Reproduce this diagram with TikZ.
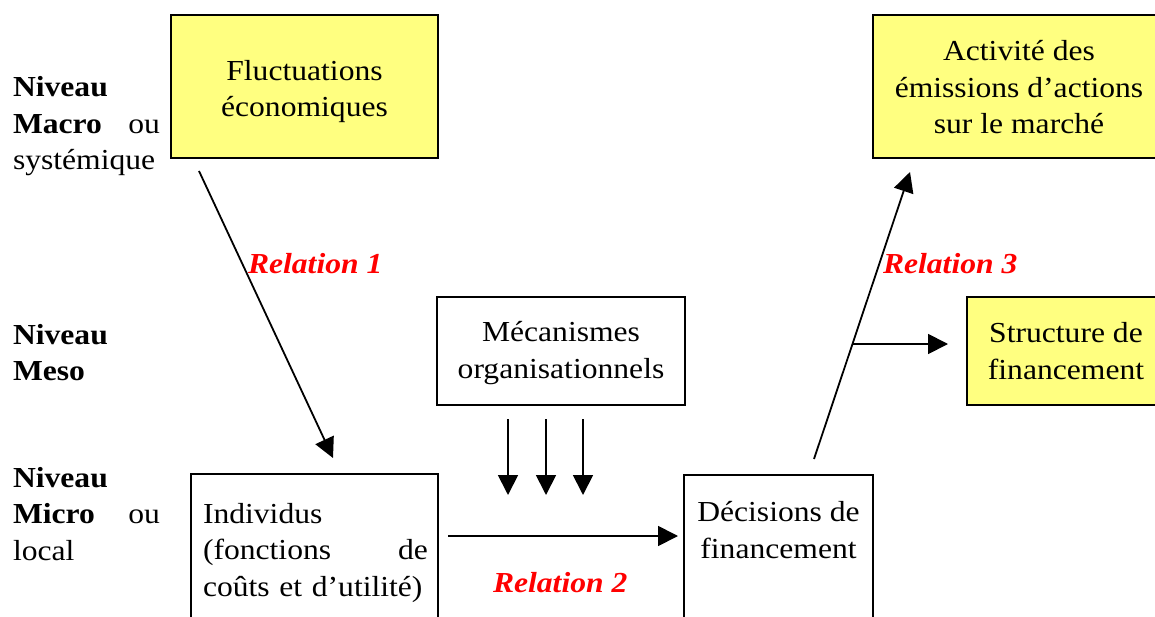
\documentclass[tikz,border=0pt]{standalone}
\usepackage{fontspec}
\setmainfont{Liberation Serif}[FakeStretch=1.09]
\usetikzlibrary{arrows.meta,calc}
\definecolor{paleyellow}{RGB}{255,255,128}
\definecolor{relred}{RGB}{255,0,0}
\begin{document}
\begin{tikzpicture}[x=1pt,y=-1pt,
  every node/.style={inner sep=0pt,outer sep=0pt,font=\fontsize{29}{36.5}\selectfont},
  box/.style={draw=black,line width=2.4pt,align=center},
  hotbox/.style={box,fill=paleyellow},
  link/.style={line width=1.8pt,-{Triangle[length=20pt,width=20pt]}},
  rel/.style={text=relred,font=\fontsize{29}{36.5}\selectfont\bfseries\itshape,anchor=base west},
  lvl/.style={anchor=base west,text width=147pt,align=left}]
\useasboundingbox (0,0) rectangle (1155,617);
\clip (0,0) rectangle (1155,617);

% level labels
\node[lvl] (macro) at (13,97) {\textbf{Niveau}\\\textbf{Macro}\hfill ou\\systémique};
\node[lvl] (meso) at (13,344) {\textbf{Niveau}\\\textbf{Meso}};
\node[lvl] (micro) at (13,487) {\textbf{Niveau}\\\textbf{Micro}\hfill ou\\local};

% boxes
\node[hotbox,minimum width=267pt,minimum height=143pt] (fluct) at (304.5,86.5) {};
\node[anchor=base,align=center] (flucttxt) at (304.5,117) {Fluctuations\\économiques};
\node[hotbox,minimum width=292pt,minimum height=143pt] (activ) at (1019,86.5) {};
\node[anchor=base,align=center] (activtxt) at (1019,134) {Activité des\\émissions d’actions\\sur le marché};
\node[box,minimum width=248pt,minimum height=108pt] (meca) at (561,351) {};
\node[anchor=base,align=center] (mecatxt) at (561,378) {Mécanismes\\organisationnels};
\node[hotbox,minimum width=198pt,minimum height=108pt] (struct) at (1066,351) {};
\node[anchor=base,align=center] (structtxt) at (1066,379) {Structure de\\financement};
\node[box,minimum width=247pt,minimum height=170pt] (indiv) at (314.5,559) {};
\node[box,minimum width=189pt,minimum height=170pt] (decis) at (778.5,560) {};

\node[anchor=base west,text width=225pt,align=left] (indivtxt) at (203,523)
  {Individus\\(fonctions\hfill de\\coûts et d’utilité)};
\node[anchor=base,align=center] (decistxt) at (778.5,558) {Décisions de\\financement};

% relation 1
\coordinate (r1a) at (199,171);
\coordinate (r1b) at (333,458);
\draw[link] (r1a) -- (r1b);
\node[rel] (rel1) at (248,274) {Relation 1};

% organisational mechanisms acting on relation 2
\foreach \i/\x in {1/508,2/546,3/583}{
  \coordinate (m\i a) at (\x,419);
  \coordinate (m\i b) at (\x,495);
  \draw[link] (m\i a) -- (m\i b);
}

% relation 2
\coordinate (r2a) at (448,536);
\coordinate (r2b) at (678,536);
\draw[link] (r2a) -- (r2b);
\node[rel] (rel2) at (493,592) {Relation 2};

% relation 3
\coordinate (r3a) at (814,459);
\coordinate (r3b) at (910,172);
\coordinate (r3c) at ($(r3a)!0.4007!(r3b)$);
\draw[link] (r3a) -- (r3b);
\coordinate (r3d) at (948,344);
\draw[link] (r3c) -- (r3d);
\node[rel] (rel3) at (883,273) {Relation 3};
\end{tikzpicture}
\end{document}
